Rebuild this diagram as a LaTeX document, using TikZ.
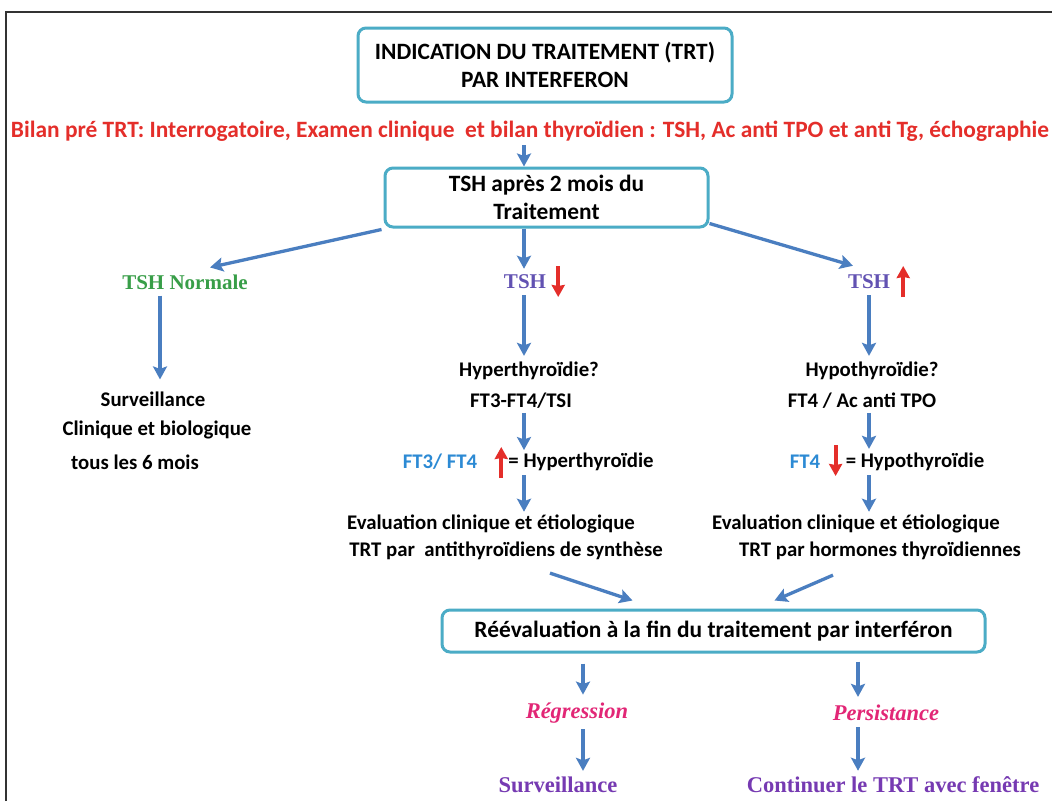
\documentclass[tikz,border=0pt]{standalone}
\usepackage{fontspec}
\setmainfont{Carlito}
\newfontfamily\serifb{Liberation Serif}
\usetikzlibrary{arrows.meta,calc}
\definecolor{boxc}{RGB}{75,172,198}
\definecolor{arrc}{RGB}{74,126,192}
\definecolor{redt}{RGB}{228,46,42}
\definecolor{greent}{RGB}{56,158,72}
\definecolor{tshp}{RGB}{98,82,178}
\definecolor{ftb}{RGB}{44,138,212}
\definecolor{pinkt}{RGB}{226,38,118}
\definecolor{purpt}{RGB}{118,58,178}
\begin{document}
\begin{tikzpicture}[x=1pt,y=-1pt,
  box/.style={draw=boxc,line width=3pt,rounded corners=8pt,fill=white,align=center,inner sep=0pt,font=\fontsize{23.4}{28}\selectfont\bfseries},
  txt/.style={inner sep=0pt,align=center,font=\fontsize{20.8}{24}\selectfont\bfseries},
  sertxt/.style={inner sep=0pt,font=\fontsize{21}{24}\selectfont\serifb\bfseries},
  itl/.style={inner sep=0pt,text=pinkt,font=\fontsize{22.5}{24}\selectfont\serifb\bfseries\itshape},
  bot/.style={inner sep=0pt,text=purpt,font=\fontsize{22.5}{24}\selectfont\serifb\bfseries},
  arr/.style={draw=arrc,line width=3.3pt,-{Stealth[length=13pt,width=14pt,inset=2.5pt]}},
  redarr/.style={draw=redt,line width=3.8pt,-{Stealth[length=12pt,width=13pt,inset=1pt]}}]
\useasboundingbox (0,0) rectangle (1052,801);
\fill[white] (0,0) rectangle (1052,801);
\draw[line width=2pt,black!80] (6,801) -- (6,12) -- (1052,12);

% column references
\coordinate (cl) at (160,0);
\coordinate (cm) at (524,0);
\coordinate (cr) at (869,0);

% top
\node[box,minimum width=374pt,minimum height=74pt] (ind) at (545,65) {INDICATION DU TRAITEMENT (TRT)\\PAR INTERFERON};
\node[txt,text=redt,font=\fontsize{23.4}{26}\selectfont\bfseries] (bilan) at (530,131) {Bilan pré TRT: Interrogatoire, Examen clinique\ \ et bilan thyroïdien : TSH, Ac anti TPO et anti Tg, échographie};
\node[box,minimum width=323pt,minimum height=59pt] (tsh) at (546.5,197.5) {TSH après 2 mois du\\Traitement};
\draw[arr] ($(bilan.south -| cm)+(0,4)$) -- (tsh.north -| cm);

% second level
\node[sertxt,text=greent] (norm) at (185,282) {TSH Normale};
\node[sertxt,text=tshp] (tshd) at (525,282) {TSH};
\node[sertxt,text=tshp] (tshu) at (869,282) {TSH};
\draw[redarr] ($(tshd.east)+(12,-16)$) -- ($(tshd.east)+(12,15)$);
\draw[redarr] ($(tshu.east)+(13,15)$) -- ($(tshu.east)+(13,-16)$);

\draw[arr] ($(tsh.south west)+(-2,1)$) -- ($(norm.north)+(25,-7)$);
\draw[arr] (tsh.south -| cm) -- ($(tshd.north -| cm)+(0,-6)$);
\draw[arr] ($(tsh.south east)+(0,-5)$) -- ($(tshu.north)+(-16,-9)$);

% left column
\node[txt] (s1) at (153,399) {Surveillance};
\node[txt] (s2) at (157,430) {Clinique et biologique};
\node[txt] (s3) at (135,462) {tous les 6 mois};
\draw[arr] ($(norm.south -| cl)+(0,6)$) -- ($(s1.north -| cl)+(0,-12)$);

% middle column
\node[txt] (h1) at (529,371) {Hyperthyroïdie?};
\node[txt] (h2) at (521,401) {FT3-FT4/TSI};
\node[txt,text=ftb] (hft) at (440,462) {FT3/ FT4};
\node[txt] (heq) at (581,462) {= Hyperthyroïdie};
\draw[redarr] ($(heq.west)+(-7,16)$) -- ($(heq.west)+(-7,-15)$);
\node[txt] (he1) at (491,524) {Evaluation clinique et étiologique};
\node[txt] (he2) at (506,551) {TRT par\ \ antithyroïdiens de synthèse};
\draw[arr] ($(tshd.south -| cm)+(0,6)$) -- ($(h1.north -| cm)+(0,-6)$);
\draw[arr] ($(h2.south -| cm)+(0,4)$) -- ($(hft.north -| cm)+(0,-4)$);
\draw[arr] ($(heq.south -| cm)+(0,4)$) -- ($(he1.north -| cm)+(0,-3)$);

% right column
\node[txt] (o1) at (872,371) {Hypothyroïdie?};
\node[txt] (o2) at (862,401) {FT4 / Ac anti TPO};
\node[txt,text=ftb] (oft) at (805,462) {FT4};
\node[txt] (oeq) at (915,462) {= Hypothyroïdie};
\draw[redarr] ($(oeq.west)+(-10,-17)$) -- ($(oeq.west)+(-10,14)$);
\node[txt] (oe1) at (856,524) {Evaluation clinique et étiologique};
\node[txt] (oe2) at (880,551) {TRT par hormones thyroïdiennes};
\draw[arr] ($(tshu.south -| cr)+(0,6)$) -- ($(o1.north -| cr)+(0,-6)$);
\draw[arr] ($(o2.south -| cr)+(0,4)$) -- ($(oeq.north -| cr)+(0,-4)$);
\draw[arr] ($(oeq.south -| cr)+(0,4)$) -- ($(oe1.north -| cr)+(0,-3)$);

% reevaluation
\node[box,minimum width=543pt,minimum height=42pt] (re) at (713.5,631) {Réévaluation à la fin du traitement par interféron};
\draw[arr] ($(he2.south)+(44,13)$) -- ($(re.north)+(-81,-8)$);
\draw[arr] ($(oe2.south)+(-47,15)$) -- ($(re.north)+(61,-8)$);

\coordinate (cbl) at (583,0);
\coordinate (cbr) at (858,0);
\node[itl] (reg) at (577,713) {Régression};
\node[itl] (per) at (886,713) {Persistance};
\node[bot] (sv) at (558,785) {Surveillance};
\node[bot] (ct) at (893,785) {Continuer le TRT avec fenêtre};
\draw[arr] ($(re.south -| cbl)+(0,10)$) -- ($(reg.north -| cbl)+(0,-8)$);
\draw[arr] ($(re.south -| cbr)+(0,8)$) -- ($(per.north -| cbr)+(0,-8)$);
\draw[arr] ($(reg.south -| cbl)+(0,6)$) -- ($(sv.north -| cbl)+(0,-6)$);
\draw[arr] ($(per.south -| cbr)+(0,6)$) -- ($(ct.north -| cbr)+(0,-6)$);
\end{tikzpicture}
\end{document}
